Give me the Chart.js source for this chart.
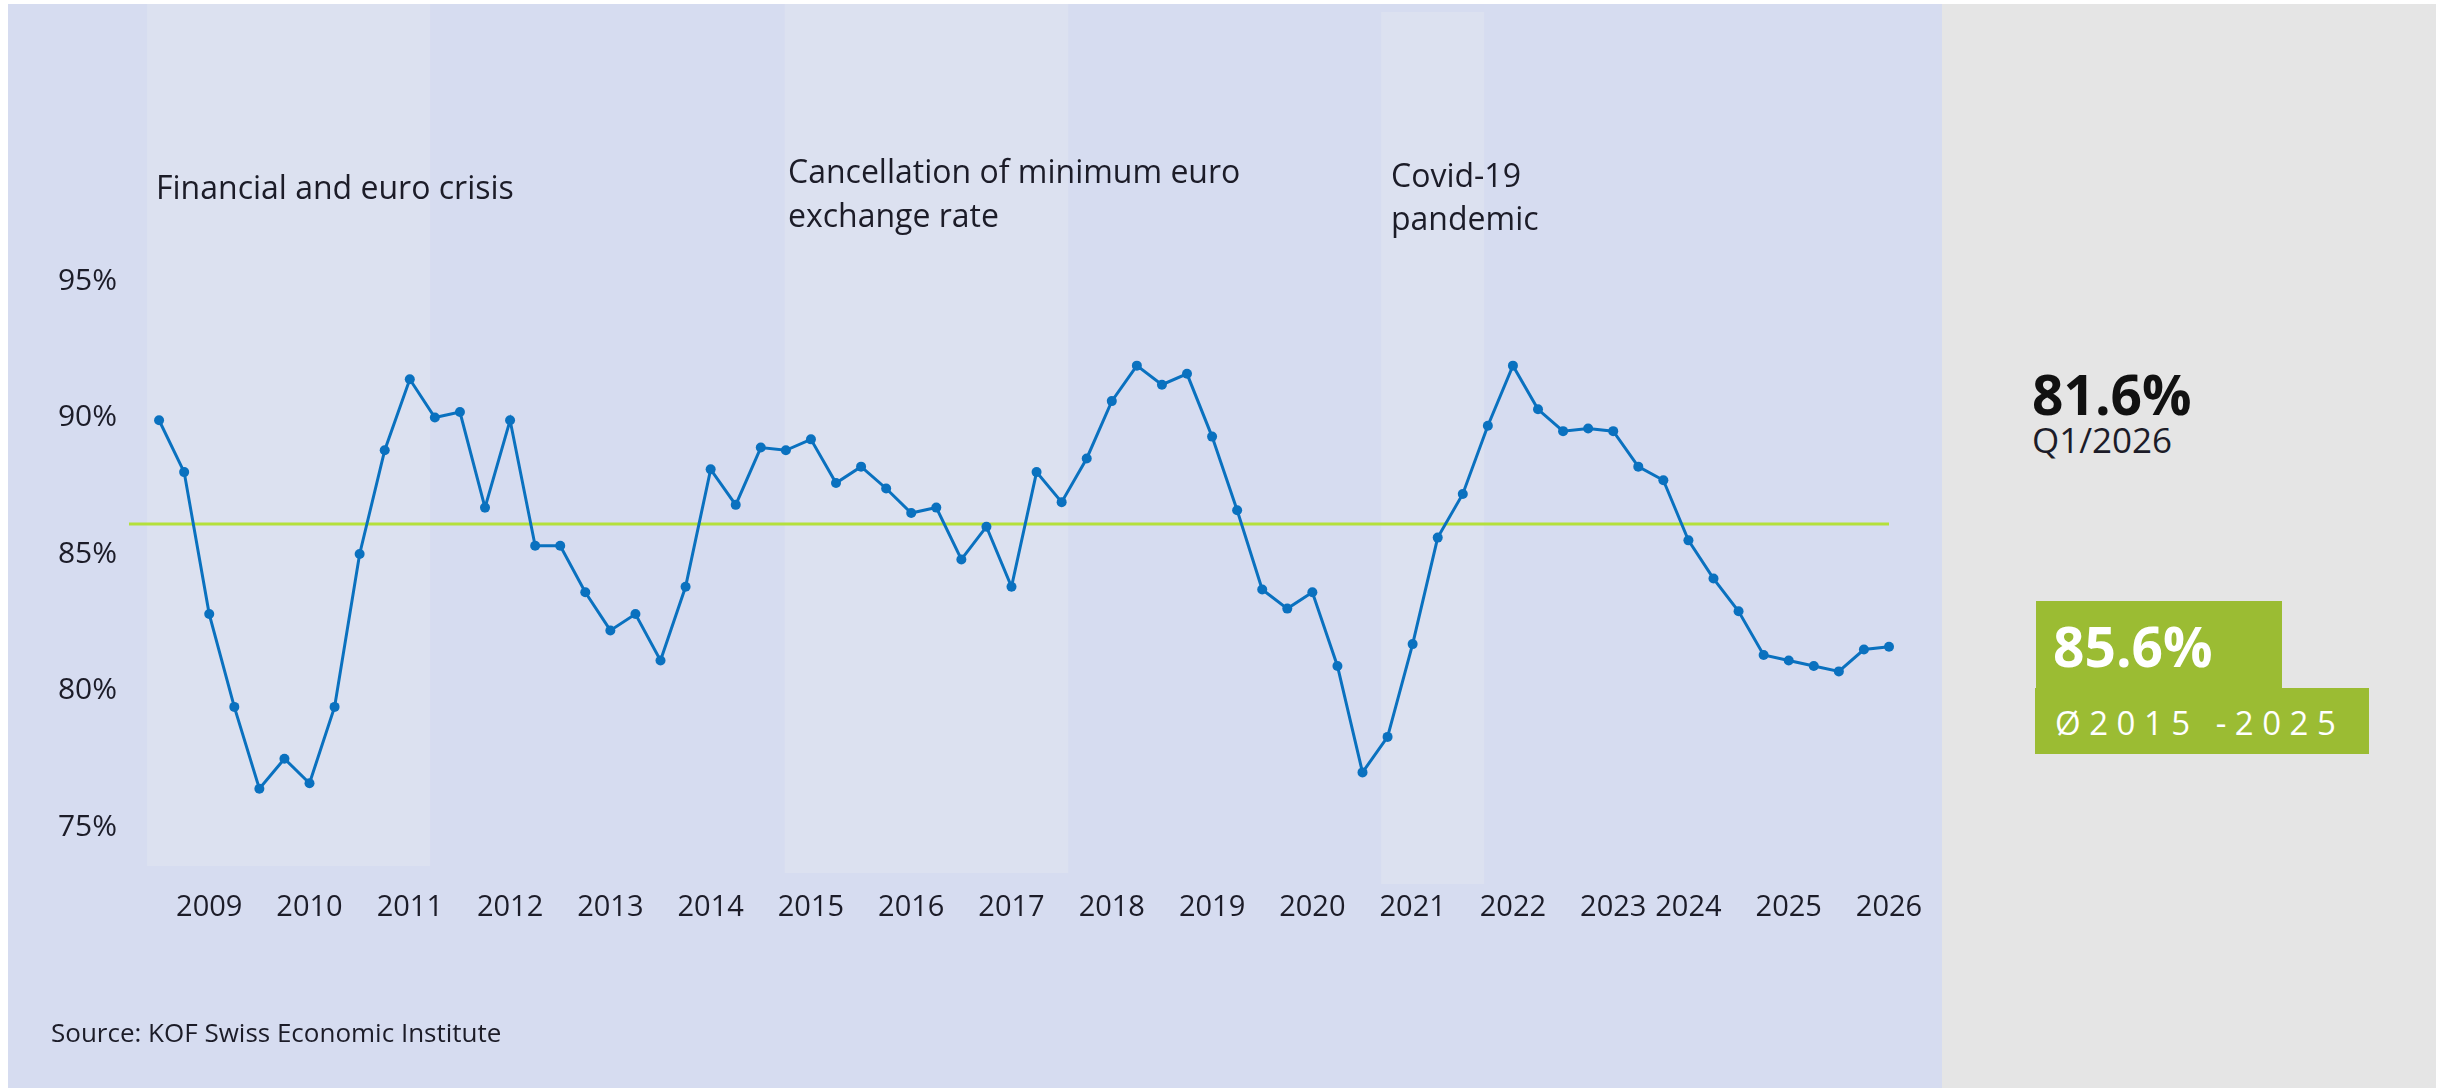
<!DOCTYPE html>
<html>
<head>
<meta charset="utf-8">
<script src="https://cdn.jsdelivr.net/npm/chart.js@4.4.1/dist/chart.umd.min.js"></script>
<style>
  html, body { margin: 0; padding: 0; background: #ffffff; }
  body { width: 2447px; height: 1088px; position: relative; overflow: hidden; font-family: "Open Sans", sans-serif; color: #1c1c28; }
  .panel { position: absolute; }
  #blue { left: 8px; top: 4px; width: 1934px; height: 1084px; background: #D6DCF0; }
  #grey { left: 1942px; top: 4px; width: 494px; height: 1084px; background: #E5E5E5; }
  #chart-wrap { position: absolute; left: 8px; top: 4px; width: 1934px; height: 1084px; }
  .note { position: absolute; font-size: 32px; white-space: nowrap; }
  .green { position: absolute; background: #9BBC33; }
  .big { position: absolute; font-size: 55px; font-weight: 700; line-height: 1; white-space: nowrap; }
</style>
</head>
<body>
<div class="panel" id="blue"></div>
<div class="panel" id="grey"></div>
<div id="chart-wrap"><canvas id="utilChart" width="1934" height="1084"></canvas></div>

<div class="note" style="left:156px; top:171px; line-height:1;">Financial and euro crisis</div>
<div class="note" style="left:788px; top:149px; line-height:44px;">Cancellation of minimum euro<br>exchange rate</div>
<div class="note" style="left:1391px; top:153px; line-height:43px;">Covid-19<br>pandemic</div>
<div class="note" style="left:51px; top:1019px; font-size:26px; line-height:1;">Source: KOF Swiss Economic Institute</div>

<div class="big" style="left:2032px; top:366px; color:#111;">81.6%</div>
<div class="note" style="left:2032px; top:422px; font-size:35px; line-height:1;">Q1/2026</div>

<div class="green" style="left:2036px; top:601px; width:246px; height:88px;"></div>
<div class="green" style="left:2035px; top:688px; width:334px; height:66px;"></div>
<div class="big" style="left:2053px; top:618px; color:#fff;">85.6%</div>
<div class="note" style="left:2055px; top:706px; font-size:33px; line-height:1; color:#fff; letter-spacing:8.5px;">Ø2015 -2025</div>

<script>
// capacity utilisation, quarterly, Q4/2008 .. Q1/2026
const utilisation = [
    89.9, 88.0, 82.8, 79.4, 76.4, 77.5, 76.6, 79.4, 85.0, 88.8,
    91.4, 90.0, 90.2, 86.7, 89.9, 85.3, 85.3, 83.6, 82.2, 82.8,
    81.1, 83.8, 88.1, 86.8, 88.9, 88.8, 89.2, 87.6, 88.2, 87.4,
    86.5, 86.7, 84.8, 86.0, 83.8, 88.0, 86.9, 88.5, 90.6, 91.9,
    91.2, 91.6, 89.3, 86.6, 83.7, 83.0, 83.6, 80.9, 77.0, 78.3,
    81.7, 85.6, 87.2, 89.7, 91.9, 90.3, 89.5, 89.6, 89.5, 88.2,
    87.7, 85.5, 84.1, 82.9, 81.3, 81.1, 80.9, 80.7, 81.5, 81.6
];

// year labels and the quarter index they sit under
const yearLabels = ["2009","2010","2011","2012","2013","2014","2015","2016","2017",
                    "2018","2019","2020","2021","2022","2023","2024","2025","2026"];
const yearTickAt = [2, 6, 10, 14, 18, 22, 26, 30, 34, 38, 42, 46, 50, 54, 58, 61, 65, 69];

const yTicks = [75, 80, 85, 90, 95];

// long-run average line (drawn level) and its span in quarter index
const avgLevel = 86.1;
const avgFrom = -1.2;
const avgTo = 69;

// shaded episodes, in quarter index
const crisisStart = [-0.48, 24.95, 48.74];
const crisisEnd = [10.81, 36.26, 52.85];

// band extents on the canvas (style only)
const bandTop = [0, 0, 8];
const bandBottom = [862, 869, 880];

const bandsPlugin = {
    id: "crisisBands",
    beforeDraw(chart) {
        const ctx = chart.ctx;
        const x = chart.scales.x;
        ctx.save();
        ctx.fillStyle = "#DCE1F0";
        crisisStart.forEach((s, i) => {
            const x0 = x.getPixelForValue(s);
            const x1 = x.getPixelForValue(crisisEnd[i]);
            ctx.fillRect(x0, bandTop[i], x1 - x0, bandBottom[i] - bandTop[i]);
        });
        ctx.restore();
    }
};

const ctx = document.getElementById("utilChart").getContext("2d");
new Chart(ctx, {
    type: "line",
    data: {
        datasets: [
            {
                data: utilisation.map((v, i) => ({ x: i, y: v })),
                borderColor: "#0A71BF",
                backgroundColor: "#0A71BF",
                borderWidth: 3,
                pointRadius: 5,
                pointBorderWidth: 0,
                pointBackgroundColor: "#0A71BF",
                tension: 0,
                clip: false
            },
            {
                data: [{ x: avgFrom, y: avgLevel }, { x: avgTo, y: avgLevel }],
                borderColor: "#B4E03A",
                borderWidth: 3,
                pointRadius: 0,
                clip: false
            }
        ]
    },
    options: {
        responsive: false,
        animation: false,
        events: [],
        layout: { padding: { left: 0, top: 277, right: 53, bottom: 161 } },
        plugins: { legend: { display: false }, tooltip: { enabled: false } },
        scales: {
            x: {
                type: "linear",
                bounds: "data",
                min: avgFrom,
                max: avgTo,
                grid: { display: false, drawTicks: false },
                border: { display: false },
                afterBuildTicks: (scale) => { scale.ticks = yearTickAt.map(v => ({ value: v })); },
                afterFit: (scale) => {
                    // label overflow is already covered by the layout padding
                    scale.height = 100;
                    scale.paddingLeft = 0;
                    scale.paddingRight = 0;
                },
                ticks: {
                    autoSkip: false,
                    maxRotation: 0,
                    padding: 63,
                    color: "#1c1c28",
                    font: { family: "Open Sans", size: 29 },
                    callback: (value) => {
                        const k = yearTickAt.indexOf(value);
                        return k >= 0 ? yearLabels[k] : "";
                    }
                }
            },
            y: {
                min: 75,
                max: 95,
                grid: { display: false, drawTicks: false },
                border: { display: false },
                afterBuildTicks: (scale) => { scale.ticks = yTicks.map(v => ({ value: v })); },
                afterFit: (scale) => {
                    scale.width = 121;
                    scale.paddingTop = 0;
                    scale.paddingBottom = 0;
                },
                ticks: {
                    padding: 12,
                    color: "#1c1c28",
                    font: { family: "Open Sans", size: 30 },
                    callback: (value) => value + "%"
                }
            }
        }
    },
    plugins: [bandsPlugin]
});
</script>
</body>
</html>
